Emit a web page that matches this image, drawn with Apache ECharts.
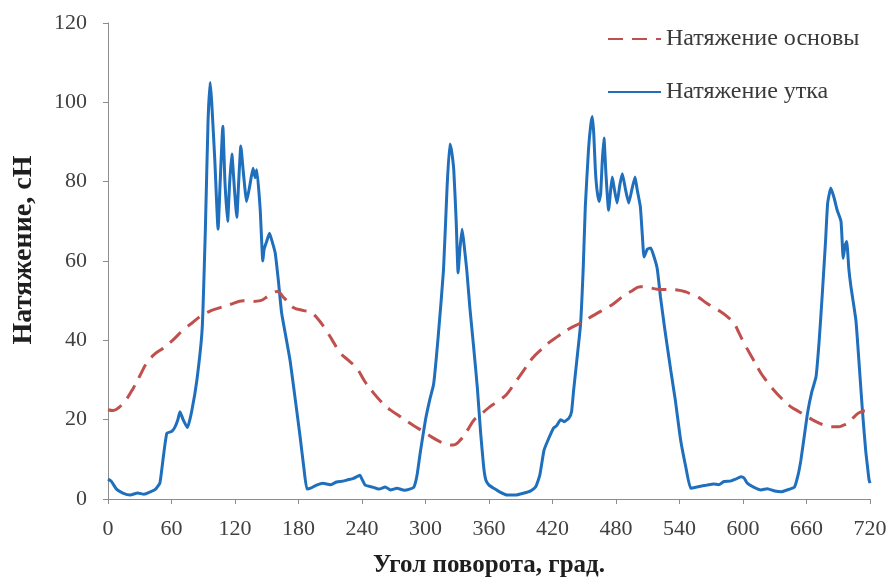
<!DOCTYPE html>
<html>
<head>
<meta charset="utf-8">
<script src="https://cdn.jsdelivr.net/npm/echarts@6/dist/echarts.min.js"></script>
<style>
  html, body { margin: 0; padding: 0; background: #fff; }
  #chart { width: 891px; height: 578px; }
</style>
</head>
<body>
<div id="chart"></div>
<script>
// Warp tension (dashed) — angle, degrees / tension, cN
const warpAngle = [0, 5, 10, 17, 24, 30, 36.6, 44, 52, 61, 71, 80, 87, 95, 103, 115, 128, 136, 144, 152, 159.6,
  167, 175, 185, 191, 197, 205, 212, 219.5, 227, 235, 243, 251, 259, 267, 275, 283, 290, 298, 306, 314, 320, 326,
  333, 340, 346, 353, 361, 369, 377, 385, 393, 401, 409, 417, 425, 435, 446, 455, 462, 470, 478, 486, 494, 503,
  511, 519, 528, 538, 546, 552, 557, 565, 572, 579, 586, 591.6, 596, 601, 609, 617, 623, 629, 637, 645, 653, 661,
  669, 677, 684, 690, 695, 700, 705, 710, 715, 720];
const warpTension = [22.5, 22.3, 23, 25, 28, 31, 34.3, 36.5, 38, 40, 42.6, 44.5, 46, 47.2, 48, 49, 50, 49.8, 50, 51.3, 52.3,
  50.5, 48.3, 47.5, 47.2, 45.8, 43, 40, 36.8, 35, 33, 29.5, 26.7, 24.3, 22.4, 21, 19.5, 18.3, 17, 15.6, 14.4, 13.8, 13.6,
  14.9, 17.5, 20, 21.5, 23.3, 24.7, 26.5, 29.5, 32.5, 35.5, 37.6, 39.5, 41, 42.8, 44.3, 45.7, 46.8, 48, 49.3, 51, 52.3, 53.5,
  53.3, 52.9, 52.8, 52.7, 52.2, 51.5, 51, 49.5, 48.3, 47.2, 45.8, 44.3, 42, 39.3, 35.5, 31.7, 29.5, 27.5, 25.2, 23.3, 22, 20.7,
  19.5, 18.6, 18.2, 18.2, 18.6, 19.2, 20.7, 21.8, 22.2, 22];

// Weft tension (solid) — angle, degrees / tension, cN
const weftAngle = [0, 3, 8, 14, 21, 28, 34, 40, 45, 49, 52, 55.6, 60, 63, 66, 68, 71, 75, 79, 84, 89, 92, 94.5, 96.5, 98,
  101, 104, 106, 108.5, 110.5, 113, 115, 117, 119.5, 121.7, 123.5, 125.5, 128, 131, 134, 137, 139, 140.6, 143.8, 146.3,
  147.5, 150, 152.6, 155, 158, 161, 164, 168, 172, 177, 181.6, 185, 188, 192, 197, 203, 210, 216, 222, 226, 232, 238,
  240, 243, 250, 256, 262, 267, 273, 280, 285, 289, 292, 295, 300, 304, 307.7, 312, 317, 320.4, 323, 324.5, 326.7, 329,
  330.8, 332.5, 334.6, 336.5, 339, 342, 345.6, 349, 352, 355, 357, 360, 364.5, 370, 377, 385, 393, 399, 404, 408, 412,
  416, 421, 424, 427.6, 431, 435.5, 438, 440, 443, 446.5, 449, 451, 454, 456, 457.6, 459, 460.5, 462, 464, 465.5, 467,
  468.6, 470.5, 473, 475, 476.5, 478.5, 481, 483.5, 486, 489, 492, 495, 498, 500, 503, 505, 506.5, 509.6, 512.8, 516,
  519, 522, 526, 531.7, 536, 541, 546, 550.6, 556, 561, 566, 572, 577, 582, 588, 593, 598, 601, 604, 610, 617, 623, 630,
  636, 642, 648.6, 652, 654.7, 658, 661, 665, 669, 672, 675, 678, 680, 683, 686, 689, 692.6, 694.7, 696.5, 698, 700, 702,
  706.7, 710, 713, 716, 717.7, 719, 720];
const weftTension = [5, 4.5, 2.5, 1.5, 1, 1.5, 1.2, 1.8, 2.5, 4, 10, 16.6, 17, 18, 20, 22, 20, 18, 22, 30, 43, 68, 95, 105, 100,
  85, 68, 80, 94, 80, 70, 80, 87, 78, 71, 80, 89, 82, 75, 79, 83.4, 81, 83, 73, 60,
  63, 65, 67, 65, 62, 55, 47, 41, 35, 25, 15.5, 8, 2.5, 2.8, 3.5, 4, 3.6, 4.3, 4.5, 4.8, 5.2, 6,
  5, 3.5, 3, 2.5, 3, 2.3, 2.7, 2.2, 2.5, 3, 6, 11.6, 20, 25, 29, 41, 57.7, 78.7, 89.5, 88, 83, 70,
  57, 63, 68, 64, 57.7, 48, 38, 28, 17, 8, 4.8, 3.5, 2.7, 1.8, 1, 1, 1.5, 2, 3, 6, 12.3,
  15, 17.9, 18.5, 20, 19.5, 20.4, 22, 27.5, 35, 44, 58, 73.7, 88, 94, 96.4, 92, 83, 78, 75, 77, 85,
  91, 82, 72.8, 78, 81.2, 78, 74.6, 79, 82, 78, 74.6, 78, 81.2, 78, 73.7, 66, 61, 63, 63.3, 61,
  58, 51, 43, 32.5, 25, 15, 8, 2.7, 3, 3.3, 3.5, 3.8, 3.6, 4.4, 4.5, 5, 5.6, 5.3, 4, 3, 2.3, 2.6, 2,
  1.8, 2.3, 3, 6, 9.8, 16, 21.7, 27, 30.8, 40, 52, 65, 74.6, 78.4, 76, 72.8, 70, 60.7, 64, 64.9, 58, 53.5,
  45, 33, 21.7, 12, 8, 5, 4];

const seriesNames = ['Натяжение основы', 'Натяжение утка'];
const xTitle = 'Угол поворота, град.';
const yTitle = 'Натяжение, сН';

const pairs = (xs, ys) => xs.map((x, i) => [x, ys[i]]);

const serif = '"Liberation Serif", "DejaVu Serif", serif';
const chart = echarts.init(document.getElementById('chart'), null, { renderer: 'canvas' });

chart.setOption({
  backgroundColor: '#ffffff',
  animation: false,
  grid: { left: 108, right: 21, top: 23, bottom: 79, containLabel: false, outerBoundsMode: 'none' },
  legend: {
    orient: 'vertical',
    left: 602,
    top: 22,
    itemWidth: 53,
    itemHeight: 14,
    itemGap: 29,
    itemStyle: { opacity: 0, borderWidth: 0 },
    textStyle: { fontFamily: serif, fontSize: 24, color: '#3a3a3a' },
    data: seriesNames
  },
  xAxis: {
    type: 'value',
    min: 0, max: 720, interval: 60,
    name: xTitle,
    nameLocation: 'middle',
    nameGap: 54,
    nameTextStyle: { fontFamily: serif, fontSize: 25, fontWeight: 'bold', color: '#1e1e1e' },
    axisLine: { show: true, lineStyle: { color: '#8c8c8c', width: 1 } },
    axisTick: { show: true, length: 5, lineStyle: { color: '#8c8c8c' } },
    axisLabel: { fontFamily: serif, fontSize: 22, color: '#404040', margin: 19 },
    splitLine: { show: false }
  },
  yAxis: {
    type: 'value',
    min: 0, max: 120, interval: 20,
    name: yTitle,
    nameLocation: 'middle',
    nameGap: 70,
    nameRotate: 90,
    nameTextStyle: { fontFamily: serif, fontSize: 28, fontWeight: 'bold', color: '#1e1e1e', padding: [0, 0, 0, 22] },
    axisLine: { show: true, lineStyle: { color: '#8c8c8c', width: 1 } },
    axisTick: { show: true, length: 5, lineStyle: { color: '#8c8c8c' } },
    axisLabel: { fontFamily: serif, fontSize: 22, color: '#404040', margin: 21 },
    splitLine: { show: false }
  },
  series: [
    {
      name: seriesNames[0],
      type: 'line',
      data: pairs(warpAngle, warpTension),
      showSymbol: false,
      symbol: 'none',
      smooth: 0.4,
      z: 3,
      itemStyle: { color: '#c0504d' },
      lineStyle: { color: '#c0504d', width: 3, type: [15, 9] }
    },
    {
      name: seriesNames[1],
      type: 'line',
      data: pairs(weftAngle, weftTension),
      showSymbol: false,
      symbol: 'none',
      smooth: 0.15,
      z: 2,
      itemStyle: { color: '#1f6fbd' },
      lineStyle: { color: '#1f6fbd', width: 3 }
    }
  ]
});
</script>
</body>
</html>
